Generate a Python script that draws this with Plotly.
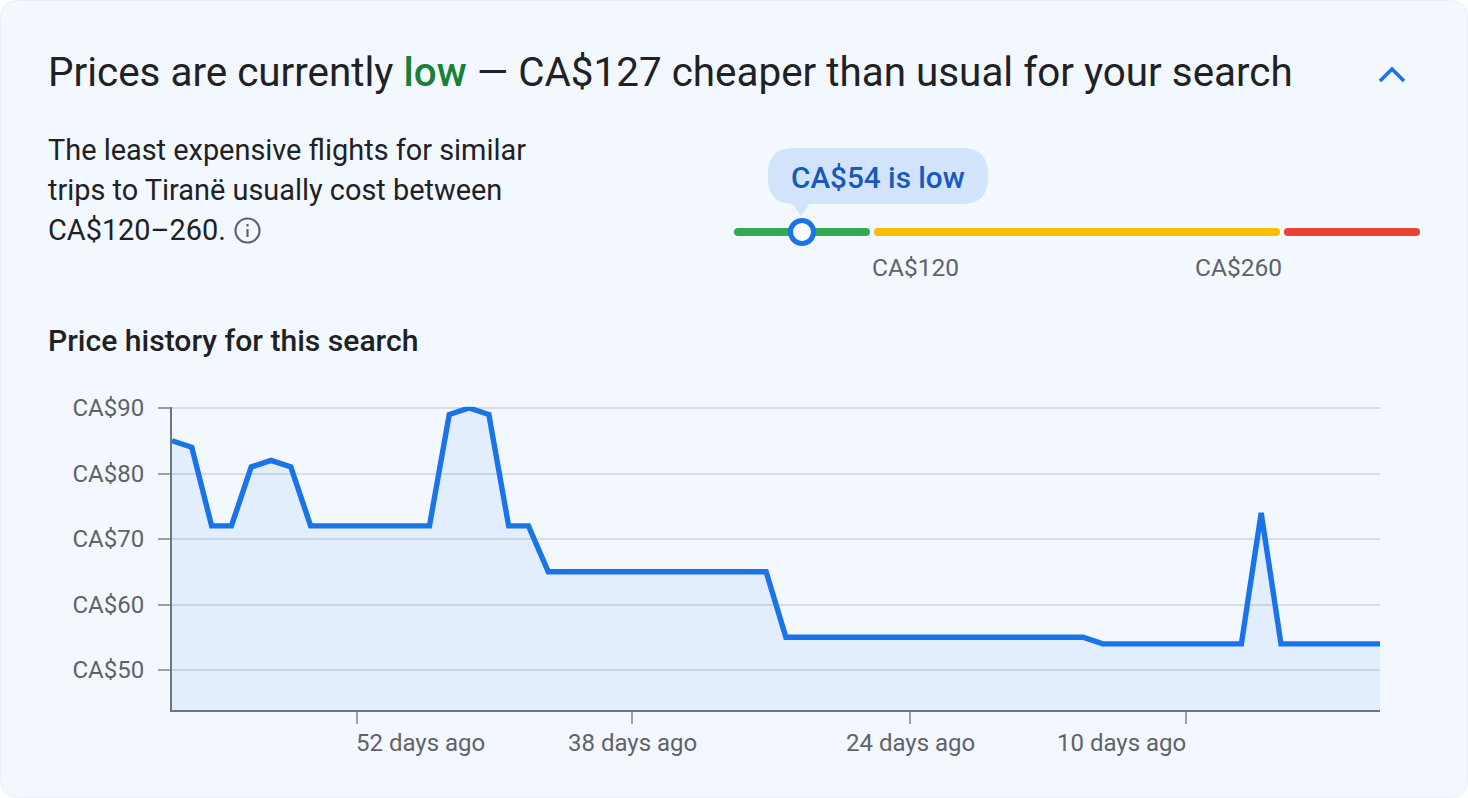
import plotly.graph_objects as go

W, H = 1468, 798

# ---- data ----
days_ago = list(range(61, -1, -1))
prices = [85, 84, 72, 72, 81, 82, 81, 72, 72, 72, 72, 72, 72, 72, 89, 90, 89, 72, 72, 65,
          65, 65, 65, 65, 65, 65, 65, 65, 65, 65, 65, 55, 55, 55, 55, 55, 55, 55, 55, 55,
          55, 55, 55, 55, 55, 55, 55, 54, 54, 54, 54, 54, 54, 54, 54, 74, 54, 54, 54, 54,
          54, 54]
y_ticks = [50, 60, 70, 80, 90]
y_labels = ["CA$50", "CA$60", "CA$70", "CA$80", "CA$90"]
x_tick_pos = [51.66, 37.77, 23.73, 9.8]
x_labels = ["52 days ago", "38 days ago", "24 days ago", "10 days ago"]
x_anchors = ["left", "center", "center", "right"]
x_nudges = [-3, 0, 0, 2]

title_text = ('Prices are currently <span style="color:#188038;font-weight:500">low</span>'
              ' — CA$127 cheaper than usual for your search')
body_lines = ["The least expensive flights for similar",
              "trips to Tiranë usually cost between",
              "CA$120–260."]
bubble_text = "CA$54 is low"
range_labels = ["CA$120", "CA$260"]
subtitle = "Price history for this search"

BG = "#f3f8ff"
INK = "#202124"
GREY = "#5f6368"
BLUE = "#1a73e8"
FONT = "Roboto"


def px(x):
    return x / W


def py(y):
    return 1 - y / H


def rrect(x0, y0, x1, y1, r):
    return (f"M{px(x0+r)},{py(y0)} L{px(x1-r)},{py(y0)} "
            f"Q{px(x1)},{py(y0)} {px(x1)},{py(y0+r)} L{px(x1)},{py(y1-r)} "
            f"Q{px(x1)},{py(y1)} {px(x1-r)},{py(y1)} L{px(x0+r)},{py(y1)} "
            f"Q{px(x0)},{py(y1)} {px(x0)},{py(y1-r)} L{px(x0)},{py(y0+r)} "
            f"Q{px(x0)},{py(y0)} {px(x0+r)},{py(y0)} Z")


def poly(points, close=False):
    s = "M" + " L".join(f"{px(a)},{py(b)}" for a, b in points)
    return s + (" Z" if close else "")


def path_shape(path, fill=None, line=None, width=0):
    return dict(type="path", xref="paper", yref="paper", path=path,
                fillcolor=fill or "rgba(0,0,0,0)",
                line=dict(color=line or "rgba(0,0,0,0)", width=width), layer="below")


def circle(cx, cy, r, fill=None, line=None, width=0):
    return dict(type="circle", xref="paper", yref="paper",
                x0=px(cx-r), x1=px(cx+r), y0=py(cy+r), y1=py(cy-r),
                fillcolor=fill or "rgba(0,0,0,0)",
                line=dict(color=line or "rgba(0,0,0,0)", width=width), layer="below")


def text(x, y, s, size, color, anchor="left", weight=400, family=FONT):
    return dict(xref="paper", yref="paper", x=px(x), y=py(y), text=s, showarrow=False,
                xanchor=anchor, yanchor="middle", align=anchor,
                font=dict(family=family, size=size, color=color, weight=weight))


shapes = [
    path_shape(rrect(0.5, 0.5, W-0.5, H-0.5, 18), BG, "#e8eef8", 1),
    # chevron
    path_shape(poly([(1380, 81), (1392, 69), (1404, 81)]), None, BLUE, 3.6),
    # info icon
    circle(247.5, 230.5, 12, None, GREY, 2.2),
    path_shape(poly([(247.5, 229), (247.5, 237)]), None, GREY, 2.2),
    path_shape(poly([(247.5, 224), (247.5, 226.5)]), None, GREY, 2.2),
    # range bars
    path_shape(rrect(734, 228, 870, 236, 4), "#34a853"),
    path_shape(rrect(874, 228, 1280, 236, 4), "#fbbc04"),
    path_shape(rrect(1284, 228, 1420, 236, 4), "#ea4335"),
    # bubble
    path_shape(rrect(768, 148, 988, 204, 26), "#d2e3fc"),
    path_shape(poly([(792, 203), (810, 203), (801, 216)], True), "#d2e3fc"),
    # marker
    circle(802, 232, 11.5, "#ffffff", BLUE, 5),
]

annotations = [
    text(46, 72, title_text, 40.4, INK),
    text(46, 150, body_lines[0], 28.9, INK),
    text(46, 190, body_lines[1], 28.9, INK),
    text(46, 230, body_lines[2], 28.9, INK),
    text(878, 178, bubble_text, 29.7, "#185abc", "center", 500),
    text(915.5, 267, range_labels[0], 24.5, GREY, "center"),
    text(1238, 267, range_labels[1], 24.5, GREY, "center"),
    text(46, 340, subtitle, 30.1, INK, "left", 500),
]
for pos, lab, anc, nudge in zip(x_tick_pos, x_labels, x_anchors, x_nudges):
    annotations.append(dict(xref="x", yref="paper", x=pos, y=py(743), text=lab,
                            showarrow=False, xanchor=anc, yanchor="middle", xshift=nudge,
                            font=dict(family=FONT, size=24, color=GREY)))

fig = go.Figure()
fig.add_trace(go.Scatter(x=days_ago, y=prices, mode="lines", fill="tozeroy",
                         fillcolor="rgba(26,115,232,0.08)", line=dict(width=0),
                         hoverinfo="skip", showlegend=False))
fig.add_trace(go.Scatter(x=days_ago, y=prices, mode="lines", cliponaxis=False,
                         line=dict(color=BLUE, width=5.4),
                         hoverinfo="skip", showlegend=False))

fig.update_layout(
    width=W, height=H, margin=dict(l=0, r=0, t=0, b=0),
    paper_bgcolor="#ffffff", plot_bgcolor="rgba(0,0,0,0)",
    showlegend=False, hovermode=False,
    shapes=shapes, annotations=annotations,
    xaxis=dict(domain=[px(172), px(1380)], range=[61, 0], showgrid=False, zeroline=False,
               automargin=False,
               tickmode="array", tickvals=x_tick_pos, ticktext=[""] * len(x_tick_pos),
               ticks="outside", ticklen=12, tickwidth=1.5, tickcolor="#9aa0a6",
               showline=True, linecolor="#70757a", linewidth=2, fixedrange=True),
    yaxis=dict(domain=[py(710), py(406.69)], range=[43.9, 90.2], zeroline=False,
               automargin=False,
               tickmode="array", tickvals=y_ticks, ticktext=y_labels,
               showgrid=True, gridcolor="#dadce0", gridwidth=1.5,
               ticks="outside", ticklen=12, tickwidth=1.5, tickcolor="#9aa0a6",
               ticklabelstandoff=9,
               tickfont=dict(family=FONT, size=24, color=GREY),
               showline=True, linecolor="#70757a", linewidth=2, fixedrange=True),
)

fig.write_html("out.html", config=dict(displayModeBar=False),
               post_script="document.body.style.margin='0';document.body.style.overflow='hidden';"
                           "document.querySelectorAll('.js-line').forEach(function(e){"
                           "e.style.strokeLinejoin='miter';});")
